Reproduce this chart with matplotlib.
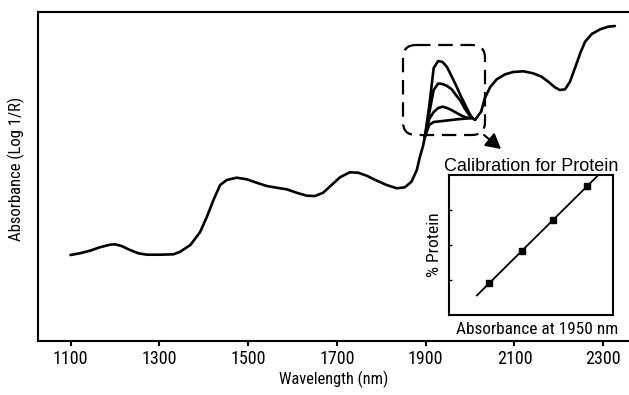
import matplotlib
matplotlib.use("Agg")
import matplotlib.pyplot as plt
import matplotlib.transforms as mtransforms
from matplotlib.patches import FancyBboxPatch, FancyArrowPatch
import numpy as np

NARROW = ['Roboto Condensed', 'Liberation Sans', 'DejaVu Sans']
REGULAR = ['Liberation Sans', 'DejaVu Sans']
plt.rcParams['font.family'] = NARROW

# ---------------- data ----------------
# main NIR spectrum (arbitrary absorbance units), part before the protein band
wl_low = [1100, 1121, 1144, 1166, 1189, 1200, 1215, 1234, 1253, 1272, 1302, 1332,
          1347, 1370, 1392, 1407, 1422, 1437, 1452, 1474, 1497, 1519, 1542, 1564,
          1587, 1609, 1632, 1651, 1669, 1688, 1707, 1729, 1748, 1767, 1790, 1812,
          1835, 1853, 1868, 1880, 1887, 1894, 1898]
abs_low = [86, 87.7, 90.3, 93.7, 96.3, 96.7, 95, 91, 87.7, 86.3, 86.3, 86.7,
           89.3, 96, 109, 124, 141, 156, 161, 163.3, 161.7, 158.3, 155, 153.3,
           151.7, 148.3, 145.3, 145, 148.3, 156, 163.7, 168.7, 168.3, 165.3, 160.3, 156,
           152.7, 153.7, 159.3, 171, 184.3, 195, 204]

# protein band region: four samples with different protein content
wl_band = [1898, 1908, 1918, 1928, 1938, 1948, 1958, 1968, 1978, 1988, 1998, 2005]
band_1 = [204, 235, 273, 280, 279, 274, 265, 256, 246, 237, 228, 223]
band_2 = [204, 228, 251, 257.5, 257, 255, 252, 246, 240.5, 232.5, 226, 223]
band_3 = [204, 222, 229, 233, 234.3, 233, 231, 228.5, 226, 224, 223, 223]
band_4 = [204, 216, 219, 219.5, 220, 220.5, 221, 221.5, 222, 222.3, 222.7, 223]
bands = [band_1, band_2, band_3, band_4]

# part after the protein band
wl_high = [2005, 2011, 2025, 2033, 2045, 2060, 2079, 2097, 2120, 2142, 2161, 2176,
           2191, 2202, 2214, 2225, 2236, 2248, 2259, 2274, 2293, 2311, 2326]
abs_high = [223, 221, 229.5, 242.7, 253.7, 261.7, 266.7, 269, 269.7, 267.7, 264.3, 259.3,
            253.7, 251, 251.7, 259.3, 272.7, 287.7, 299.3, 307, 311.7, 314.3, 315]

x_ticks = [1100, 1300, 1500, 1700, 1900, 2100, 2300]

# calibration inset
cal_absorbance = [0.398, 0.478, 0.554, 0.637]
cal_protein = [10.74, 13.49, 16.14, 19.06]
fit_range = [0.368, 0.661]
protein_ticks = [11, 14, 17]

# ---------------- figure ----------------
W, H = 629, 395
fig = plt.figure(figsize=(W / 100, H / 100), dpi=100)
fig.patch.set_facecolor('white')

ax = fig.add_axes([38 / W, 54 / H, 1 - 38 / W, 329 / H])
lw_curve = 1.9
kw = dict(color='black', lw=lw_curve, solid_joinstyle='round', solid_capstyle='round')
ax.plot(wl_low, abs_low, **kw)
for b in bands:
    ax.plot(wl_band, b, **kw)
ax.plot(wl_high, abs_high, **kw)

ax.set_xlim(1026.8, 2357.9)
ax.set_ylim(0, 329)
ax.set_xticks(x_ticks)
ax.set_xticklabels([str(t) for t in x_ticks])
ax.set_yticks([])
ax.tick_params(axis='x', direction='out', length=3.8, width=1.5, pad=3, labelsize=13)
for s in ['left', 'bottom', 'top']:
    ax.spines[s].set_linewidth(1.5)
ax.spines['right'].set_visible(False)
ax.set_xlabel('Wavelength (nm)', fontsize=11.8)
ax.xaxis.set_label_coords(0.5, -0.09)
ax.set_ylabel('Absorbance (Log 1/R)', fontsize=12)
ax.yaxis.set_label_coords(-0.022, 0.524)

# dashed rounded box and arrow (reference-pixel coordinates, y downwards)
pix = mtransforms.Affine2D().scale(1 / W, -1 / H).translate(0, 1) + fig.transFigure
box = FancyBboxPatch((403, 45), 82, 90, boxstyle='round,pad=0,rounding_size=13',
                     transform=pix, fill=False, edgecolor='black', lw=1.6,
                     linestyle=(0, (6.5, 3.5)))
fig.patches.append(box)
arrow = FancyArrowPatch((484, 135), (501, 149), transform=pix,
                        arrowstyle='-|>,head_length=0.6,head_width=0.33',
                        mutation_scale=15, lw=1.5, color='black',
                        shrinkA=0, shrinkB=0)
fig.patches.append(arrow)

# inset calibration plot
ax2 = fig.add_axes([449 / W, 80 / H, 164 / W, 140 / H])
ax2.set_xlim(0.30, 0.70)
ax2.set_ylim(8, 20)
coef = np.polyfit(cal_absorbance, cal_protein, 1)
fx = np.array(fit_range)
ax2.plot(fx, np.polyval(coef, fx), color='black', lw=1.3)
ax2.plot(cal_absorbance, cal_protein, linestyle='none', marker='s', ms=4.5, color='black')
ax2.set_xticks([])
ax2.set_yticks(protein_ticks)
ax2.tick_params(axis='y', direction='in', length=2.5, width=1, labelleft=False)
for s in ax2.spines.values():
    s.set_linewidth(1.5)
ax2.set_title('Calibration for Protein', fontsize=13, family=REGULAR, pad=3)
ax2.set_xlabel('Absorbance at 1950 nm', fontsize=12.4)
ax2.xaxis.set_label_coords(0.535, -0.05)
ax2.set_ylabel('% Protein', fontsize=12.5, labelpad=5)

fig.savefig('out.png', dpi=100, facecolor='white')
